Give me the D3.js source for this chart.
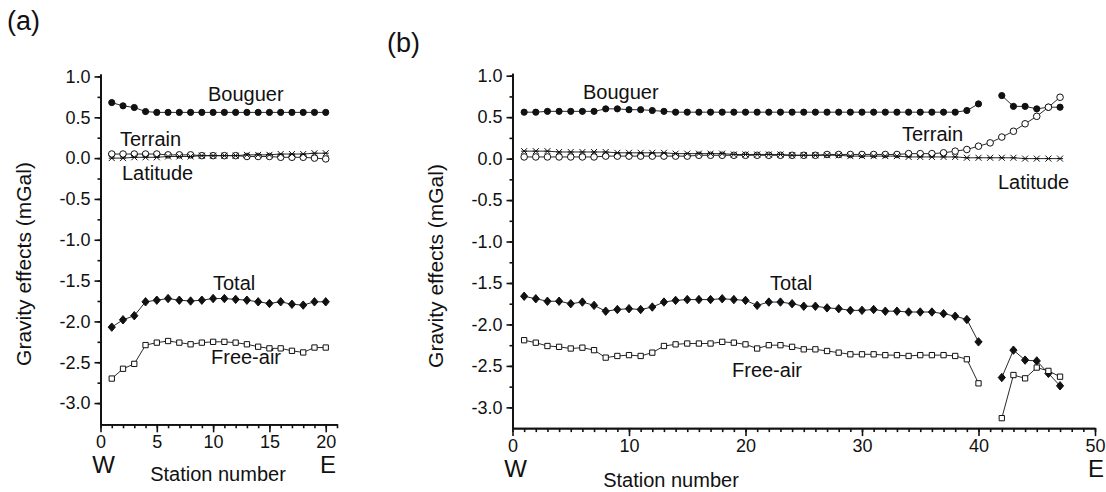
<!DOCTYPE html>
<html>
<head>
<meta charset="utf-8">
<script src="https://cdn.jsdelivr.net/npm/d3@7"></script>
<style>
  body { margin: 0; background: #fff; }
  svg text { font-family: "Liberation Sans", Arial, sans-serif; fill: #111; }
</style>
</head>
<body>
<div id="chart"></div>
<script>
// ---- panel (a) data, stations 1..20 ----
var stationsA = [1,2,3,4,5,6,7,8,9,10,11,12,13,14,15,16,17,18,19,20];
var bouguerA  = [0.68,0.64,0.62,0.57,0.56,0.56,0.56,0.56,0.56,0.56,0.56,0.56,0.56,0.56,0.56,0.56,0.56,0.56,0.56,0.56];
var terrainA  = [0.05,0.05,0.05,0.05,0.05,0.04,0.04,0.04,0.03,0.03,0.03,0.03,0.02,0.02,0.02,0.01,0.01,0.01,0.0,-0.01];
var latitudeA = [0.0,0.0,0.01,0.01,0.01,0.02,0.02,0.02,0.03,0.03,0.03,0.03,0.04,0.04,0.04,0.05,0.05,0.05,0.06,0.06];
var totalA    = [-2.07,-1.98,-1.93,-1.76,-1.74,-1.72,-1.74,-1.75,-1.74,-1.72,-1.72,-1.73,-1.74,-1.76,-1.78,-1.76,-1.79,-1.80,-1.76,-1.76];
var freeAirA  = [-2.70,-2.58,-2.52,-2.29,-2.26,-2.24,-2.26,-2.28,-2.26,-2.25,-2.25,-2.26,-2.28,-2.31,-2.33,-2.33,-2.36,-2.38,-2.32,-2.32];

// ---- panel (b) data, stations 1..47 (no reading at 41 except terrain/latitude) ----
var stationsB = [1,2,3,4,5,6,7,8,9,10,11,12,13,14,15,16,17,18,19,20,21,22,23,24,25,26,27,28,29,30,31,32,33,34,35,36,37,38,39,40,41,42,43,44,45,46,47];
var bouguerB  = [0.56,0.56,0.57,0.57,0.57,0.57,0.57,0.60,0.60,0.59,0.59,0.58,0.57,0.56,0.56,0.56,0.56,0.56,0.56,0.56,
                 0.56,0.56,0.56,0.56,0.56,0.56,0.56,0.56,0.56,0.56,0.56,0.56,0.56,0.56,0.56,0.56,0.56,0.56,0.58,0.66,
                 null,0.76,0.63,0.63,0.60,0.62,0.62];
var terrainB  = [0.02,0.02,0.02,0.02,0.02,0.02,0.02,0.03,0.03,0.03,0.03,0.03,0.03,0.03,0.03,0.04,0.04,0.04,0.04,0.04,
                 0.04,0.04,0.04,0.04,0.04,0.04,0.05,0.05,0.05,0.05,0.05,0.05,0.05,0.06,0.06,0.06,0.07,0.09,0.11,0.15,
                 0.19,0.26,0.33,0.42,0.51,0.62,0.74];
var latitudeB = [0.09,0.09,0.09,0.08,0.08,0.08,0.08,0.08,0.07,0.07,0.07,0.07,0.07,0.06,0.06,0.06,0.06,0.06,0.05,0.05,
                 0.05,0.05,0.05,0.04,0.04,0.04,0.04,0.04,0.03,0.03,0.03,0.03,0.03,0.02,0.02,0.02,0.02,0.02,0.01,0.01,
                 0.01,0.01,0.01,0.0,0.0,0.0,0.0];
var totalB    = [-1.66,-1.69,-1.72,-1.72,-1.75,-1.73,-1.77,-1.84,-1.82,-1.81,-1.82,-1.79,-1.73,-1.71,-1.70,-1.70,-1.70,-1.69,-1.70,-1.71,
                 -1.77,-1.73,-1.73,-1.75,-1.78,-1.78,-1.80,-1.81,-1.83,-1.83,-1.82,-1.84,-1.84,-1.85,-1.85,-1.85,-1.87,-1.90,-1.94,-2.21,
                 null,-2.64,-2.31,-2.43,-2.44,-2.59,-2.74];
var freeAirB  = [-2.19,-2.22,-2.26,-2.27,-2.29,-2.28,-2.31,-2.40,-2.38,-2.37,-2.38,-2.34,-2.26,-2.24,-2.23,-2.23,-2.23,-2.21,-2.22,-2.24,
                 -2.29,-2.25,-2.25,-2.27,-2.30,-2.30,-2.32,-2.34,-2.36,-2.36,-2.36,-2.37,-2.37,-2.38,-2.37,-2.37,-2.37,-2.38,-2.42,-2.71,
                 null,-3.13,-2.61,-2.65,-2.52,-2.56,-2.63];

// tick labels
var yTicks  = [1.0,0.5,0.0,-0.5,-1.0,-1.5,-2.0,-2.5,-3.0];
var xTicksA = [0,5,10,15,20];
var xTicksB = [0,10,20,30,40,50];

var W = 1106, H = 492;
var svg = d3.select('#chart').append('svg')
    .attr('width', W).attr('height', H)
    .attr('viewBox', '0 0 '+W+' '+H);

// latitude marker: an x with a small bar through it
function latPath(){
    var s = 3;
    return 'M'+(-s)+','+(-s)+'L'+s+','+s+'M'+(-s)+','+s+'L'+s+','+(-s)+'M'+(-s)+',0L'+s+',0';
}
function diamondPath(){
    return 'M0,-4.2L3.6,0L0,4.2L-3.6,0Z';
}

var markers = {
    bouguer:  { path: d3.symbol().type(d3.symbolCircle).size(30)(),  fill: '#111', stroke: '#111' },
    terrain:  { path: d3.symbol().type(d3.symbolCircle).size(34)(),  fill: '#fff', stroke: '#111' },
    latitude: { path: latPath(),                                      fill: 'none', stroke: '#111' },
    total:    { path: diamondPath(),                                  fill: '#111', stroke: '#111' },
    freeair:  { path: d3.symbol().type(d3.symbolSquare).size(28)(),  fill: '#fff', stroke: '#111' }
};

function drawPanel(p){
    var g = svg.append('g').attr('class', 'panel');
    var x = d3.scaleLinear().domain(p.xDomain).range(p.xRange),
        y = d3.scaleLinear().domain(p.yDomain).range(p.yRange);

    var fmt = function(d){ return d.toFixed(1); };

    // minor ticks first, then major ticks with labels
    g.append('g').attr('transform', 'translate('+p.xRange[0]+',0)')
        .call(d3.axisLeft(y).tickValues(d3.range(-3.0, 1.01, 0.25)).tickSize(3).tickSizeOuter(0).tickFormat(''))
        .call(styleAxis);
    g.append('g').attr('transform', 'translate('+p.xRange[0]+',0)')
        .call(d3.axisLeft(y).tickValues(yTicks).tickSize(6).tickSizeOuter(0).tickFormat(fmt).tickPadding(4))
        .call(styleAxis);
    g.append('g').attr('transform', 'translate(0,'+p.yRange[0]+')')
        .call(d3.axisBottom(x).tickValues(d3.range(p.xDomain[0], p.xDomain[1]+0.01, 1)).tickSize(4).tickSizeOuter(0).tickFormat(''))
        .call(styleAxis);
    g.append('g').attr('transform', 'translate(0,'+p.yRange[0]+')')
        .call(d3.axisBottom(x).tickValues(p.xTicks).tickSize(8).tickSizeOuter(0).tickPadding(3))
        .call(styleAxis);

    var series = [
        { key: 'bouguer',  vals: p.bouguer },
        { key: 'terrain',  vals: p.terrain },
        { key: 'latitude', vals: p.latitude },
        { key: 'total',    vals: p.total },
        { key: 'freeair',  vals: p.freeair }
    ];

    var line = d3.line()
        .defined(function(d){ return d[1] !== null; })
        .x(function(d){ return x(d[0]); })
        .y(function(d){ return y(d[1]); });

    series.forEach(function(s){
        var pts = p.stations.map(function(st, i){ return [st, s.vals[i]]; });
        g.append('path').datum(pts)
            .attr('d', line)
            .attr('fill', 'none').attr('stroke', '#111').attr('stroke-width', 0.9);
        var m = markers[s.key];
        g.selectAll('path.mk-'+s.key)
            .data(pts.filter(function(d){ return d[1] !== null; }))
            .enter().append('path')
                .attr('class', 'mk-'+s.key)
                .attr('d', m.path)
                .attr('transform', function(d){ return 'translate('+x(d[0])+','+y(d[1])+')'; })
                .attr('fill', m.fill).attr('stroke', m.stroke).attr('stroke-width', 1);
    });

    p.labels.forEach(function(l){
        g.append('text').attr('x', l[1]).attr('y', l[2])
            .style('font-size', '20px').text(l[0]);
    });

    g.append('text')
        .attr('transform', 'translate('+p.yTitleX+','+p.yTitleY+')rotate(-90)')
        .attr('text-anchor', 'middle').style('font-size', '21px')
        .text('Gravity effects (mGal)');
    g.append('text').attr('x', p.xTitleX).attr('y', p.xTitleY)
        .attr('text-anchor', 'middle').style('font-size', '20px')
        .text('Station number');
    g.append('text').attr('x', x(0)+3).attr('y', p.wY)
        .attr('text-anchor', 'middle').style('font-size', '24px').text('W');
    g.append('text').attr('x', p.eX).attr('y', p.wY)
        .attr('text-anchor', 'middle').style('font-size', '24px').text('E');
    g.append('text').attr('x', p.tagX).attr('y', p.tagY)
        .style('font-size', '27px').text(p.tag);
}

function styleAxis(sel){
    sel.attr('font-size', null).attr('font-family', null);
    sel.select('.domain').attr('stroke', '#111').attr('stroke-width', 1.8);
    sel.selectAll('.tick line').attr('stroke', '#111').attr('stroke-width', 1.6);
    sel.selectAll('.tick text')
        .style('font-size', '18px')
        .style('font-family', '"Liberation Sans", Arial, sans-serif').attr('fill', '#111');
}

drawPanel({
    tag: '(a)', tagX: 7, tagY: 30,
    xDomain: [0, 21], xRange: [100.5, 337],
    yDomain: [-3.26, 1.03], yRange: [424.3, 74],
    xTicks: xTicksA,
    stations: stationsA,
    bouguer: bouguerA, terrain: terrainA, latitude: latitudeA, total: totalA, freeair: freeAirA,
    labels: [['Bouguer', 208, 101], ['Terrain', 120, 146], ['Latitude', 122, 180],
             ['Total', 213, 290], ['Free-air', 211, 364]],
    yTitleX: 31, yTitleY: 264,
    xTitleX: 218, xTitleY: 481,
    wY: 473, eX: 328
});

drawPanel({
    tag: '(b)', tagX: 387, tagY: 52,
    xDomain: [0, 50], xRange: [512.5, 1095],
    yDomain: [-3.25, 1.03], yRange: [428.1, 73.2],
    xTicks: xTicksB,
    stations: stationsB,
    bouguer: bouguerB, terrain: terrainB, latitude: latitudeB, total: totalB, freeair: freeAirB,
    labels: [['Bouguer', 583, 99], ['Terrain', 902, 141], ['Latitude', 998, 189],
             ['Total', 770, 290], ['Free-air', 732, 377]],
    yTitleX: 443, yTitleY: 266,
    xTitleX: 671, xTitleY: 487,
    wY: 477, eX: 1096
});
</script>
</body>
</html>
